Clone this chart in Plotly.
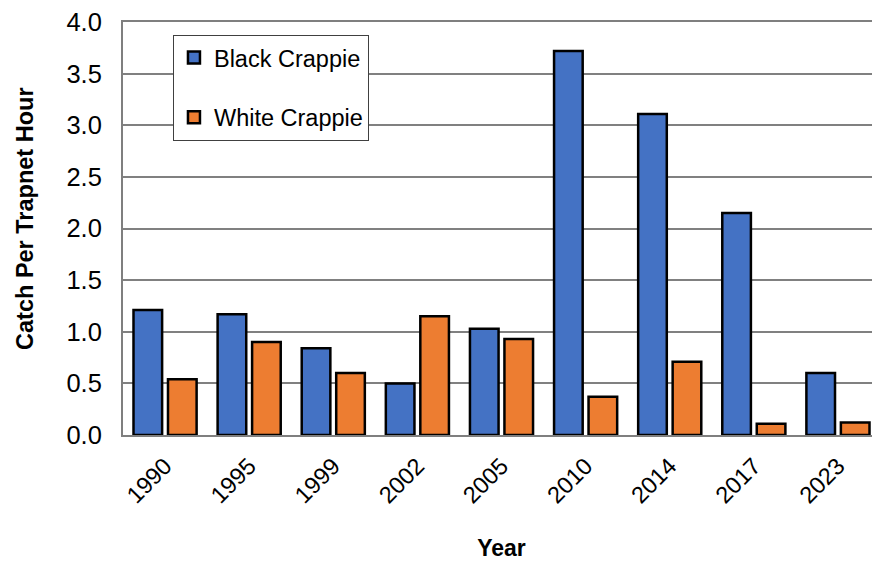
import plotly.graph_objects as go

years = ["1990", "1995", "1999", "2002", "2005", "2010", "2014", "2017", "2023"]
black_crappie = [1.21, 1.17, 0.84, 0.50, 1.03, 3.72, 3.11, 2.15, 0.60]
white_crappie = [0.54, 0.90, 0.60, 1.15, 0.93, 0.37, 0.71, 0.11, 0.12]
dark_grid_vals = [0.5, 1.0]

fig = go.Figure()
fig.add_trace(go.Bar(x=years, y=black_crappie, name="Black Crappie", legendgroup="a",
                     marker=dict(color="#4472C4", line=dict(color="black", width=2.5))))
fig.add_trace(go.Bar(x=years, y=white_crappie, name="White Crappie", legendgroup="b",
                     marker=dict(color="#ED7D31", line=dict(color="black", width=2.5))))

font_family = "Liberation Sans, Arial, sans-serif"
fig.update_layout(
    width=872, height=553,
    margin=dict(l=115, r=0, t=12, b=126),
    paper_bgcolor="white", plot_bgcolor="white",
    barmode="group", bargap=0.18, bargroupgap=0.17,
    font=dict(family=font_family, color="black"),
    legend=dict(x=0.066, y=0.969, xanchor="left", yanchor="top",
                bordercolor="#404040", borderwidth=1, bgcolor="white",
                font=dict(size=23.5), tracegroupgap=26, traceorder="grouped"),
    xaxis=dict(tickangle=-45, tickfont=dict(size=23.5), showline=True, linecolor="#7f7f7f",
               linewidth=2, mirror=True, ticks="", ticklabelstandoff=6,
               title=dict(text="<b>Year</b>", font=dict(size=23), standoff=34)),
    yaxis=dict(range=[0, 4], dtick=0.5, tickformat=".1f", tickfont=dict(size=25.5),
               showgrid=True, gridcolor="#808080", gridwidth=1.5, showline=True,
               linecolor="#7f7f7f", linewidth=2, zeroline=False, ticks="",
               ticklabelstandoff=14, ticklabeloverflow="allow",
               title=dict(text="&nbsp;&nbsp;&nbsp;<b>Catch Per Trapnet Hour</b>",
                          font=dict(size=23.5), standoff=26)),
    yaxis2=dict(range=[0, 4], overlaying="y", tickvals=dark_grid_vals, showticklabels=False,
                showgrid=True, gridcolor="#202020", gridwidth=1.2, showline=False,
                zeroline=False, ticks=""),
    showlegend=True,
)
fig.write_html("out.html")
